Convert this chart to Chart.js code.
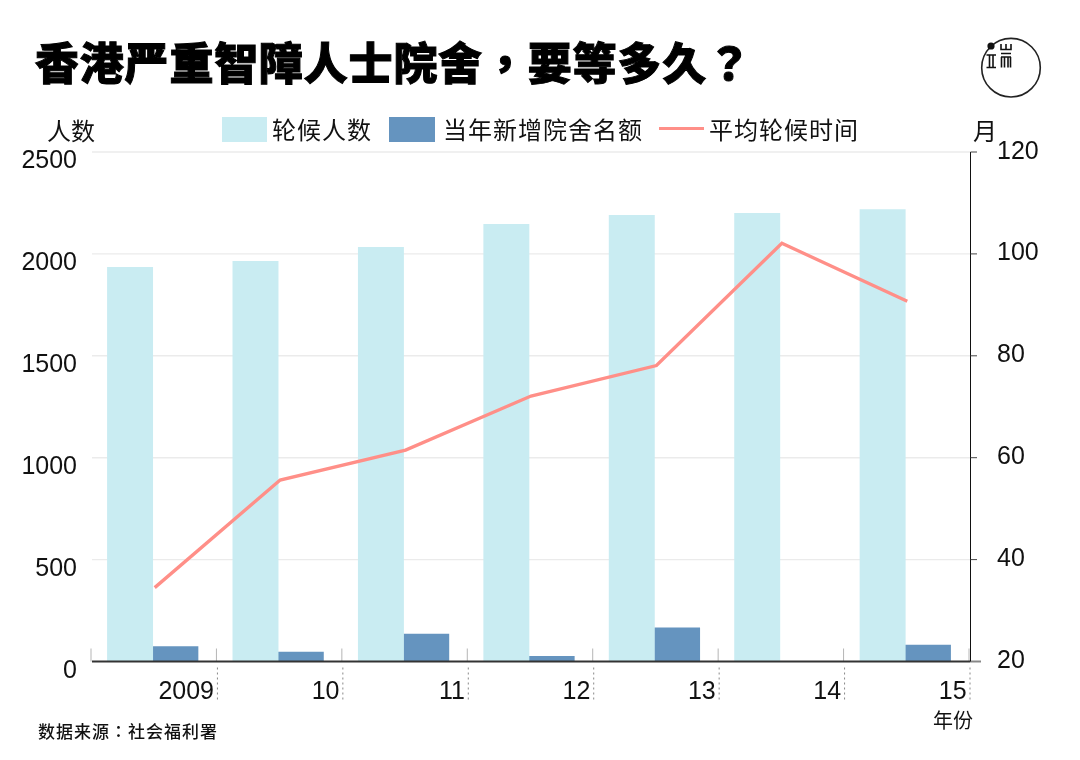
<!DOCTYPE html>
<html>
<head>
<meta charset="utf-8">
<style>
  html, body { margin: 0; background: #fff; }
  #page { position: relative; width: 1080px; height: 760px; overflow: hidden; font-family: "Liberation Sans", "Noto Sans CJK SC", sans-serif; color: #111; }
  #page canvas { position: absolute; left: 0; top: 0; }
  .txt { position: absolute; white-space: nowrap; font-family: "Noto Sans CJK SC", sans-serif; }
  #title { left: 35px; top: 26px; font-family: "Noto Sans CJK TC", sans-serif; font-size: 44px; line-height: 70px; font-weight: 900; color: #000; letter-spacing: 0.8px; -webkit-text-stroke: 1px #000; }
  .unit { font-size: 24px; line-height: 30px; top: 115px; }
  .sw { position: absolute; }
  .leg { font-size: 24px; line-height: 30px; top: 114px; letter-spacing: 1px; }
  #source { left: 38px; top: 719px; font-family: "Noto Sans CJK TC", sans-serif; font-size: 17px; line-height: 24px; font-weight: 500; letter-spacing: 1px; }
  #yearUnit { left: 933px; top: 707px; font-size: 20px; line-height: 26px; }
  #logo { position: absolute; left: 970px; top: 30px; }
</style>
</head>
<body>
<div id="page">
  <canvas id="waitChart" width="1080" height="760"></canvas>
  <div class="txt" id="title">香港严重智障人士院舍，要等多久？</div>
  <svg id="logo" width="80" height="75" viewBox="0 0 80 75">
    <circle cx="41" cy="37.7" r="29.3" fill="none" stroke="#222" stroke-width="1.6"/>
    <circle cx="21" cy="16" r="3.6" fill="#111"/>
    <path d="M31 14v5.5h10v-5.5M36 14v5.5M31 23.5h10M31 27h10M31.5 27v10.5M34.5 27v10.5M38 27v10.5M40.5 27v10.5M16.5 25h9.5M16.5 37.5h9.5M19.5 25v12.5M23 25v12.5" fill="none" stroke="#111" stroke-width="1.6"/>
  </svg>
  <div class="txt unit" style="left:47px">人数</div>
  <div class="txt unit" style="left:973px">月</div>
  <div class="sw" style="left:222px;top:117px;width:45px;height:25px;background:#c9ecf2"></div>
  <div class="txt leg" style="left:272px">轮候人数</div>
  <div class="sw" style="left:389px;top:117px;width:46px;height:25px;background:#6594bf"></div>
  <div class="txt leg" style="left:443px">当年新增院舍名额</div>
  <div class="sw" style="left:659px;top:127px;width:45px;height:3px;background:#ff8f88"></div>
  <div class="txt leg" style="left:709px">平均轮候时间</div>
  <div class="txt" id="source">数据来源：社会福利署</div>
  <div class="txt" id="yearUnit">年份</div>
</div>
<script src="https://cdn.jsdelivr.net/npm/chart.js@4/dist/chart.umd.min.js"></script>
<script>
    var yearLabels = ['2009', '10', '11', '12', '13', '14', '15'];
    var waitingPeople = [1934, 1964, 2032, 2145, 2189, 2199, 2218];
    var newPlaces = [73, 46, 135, 25, 165, 0, 81];
    var waitMonths = [34.5, 55.6, 61.5, 72.1, 78.1, 102.1, 90.7];

    var tickFont = { family: '"Liberation Sans"', size: 25 };

    function plainNumber(value) {
        return String(value);
    }

    // grid lines sit behind the bars and stop short of the y labels
    var gridPlugin = {
        id: 'leftGrid',
        beforeDatasetsDraw: function (chart) {
            var ctx = chart.ctx;
            var y = chart.scales.y;
            ctx.save();
            ctx.strokeStyle = '#ebebeb';
            ctx.lineWidth = 1.4;
            y.ticks.forEach(function (t) {
                if (t.value === 0) return;
                var py = y.getPixelForValue(t.value);
                ctx.beginPath();
                ctx.moveTo(92, py);
                ctx.lineTo(970, py);
                ctx.stroke();
            });
            ctx.restore();
        }
    };

    // year dividers, baseline and right axis, drawn from the scales
    var dividerPlugin = {
        id: 'dividers',
        afterDatasetsDraw: function (chart) {
            var ctx = chart.ctx;
            var x = chart.scales.x;
            var y = chart.scales.y;
            var yRight = chart.scales.yRight;
            var base = y.getPixelForValue(0);
            var step = x.getPixelForValue(1) - x.getPixelForValue(0);
            var firstEdge = x.getPixelForValue(0) - step / 2 + 1;
            ctx.save();
            ctx.strokeStyle = '#b5b5b5';
            ctx.lineWidth = 1;
            ctx.beginPath();
            ctx.moveTo(firstEdge, base - 13);
            ctx.lineTo(firstEdge, base);
            ctx.stroke();
            yearLabels.forEach(function (label, i) {
                var px = x.getPixelForValue(i) + step / 2 + 1;
                ctx.strokeStyle = '#b5b5b5';
                ctx.setLineDash([]);
                ctx.beginPath();
                ctx.moveTo(px, base - 13);
                ctx.lineTo(px, base);
                ctx.stroke();
                ctx.strokeStyle = '#888';
                ctx.setLineDash([2, 3]);
                ctx.beginPath();
                ctx.moveTo(px + 1, base + 6);
                ctx.lineTo(px + 1, base + 41);
                ctx.stroke();
            });
            ctx.setLineDash([]);
            // baseline
            ctx.strokeStyle = '#333';
            ctx.lineWidth = 2;
            ctx.beginPath();
            ctx.moveTo(92, base);
            ctx.lineTo(970, base);
            ctx.stroke();
            ctx.strokeStyle = '#888';
            ctx.beginPath();
            ctx.moveTo(970, base);
            ctx.lineTo(981, base);
            ctx.stroke();
            // right axis and its ticks
            ctx.strokeStyle = '#111';
            ctx.lineWidth = 1;
            ctx.beginPath();
            ctx.moveTo(970.5, y.top);
            ctx.lineTo(970.5, base);
            ctx.stroke();
            ctx.strokeStyle = '#444';
            yRight.ticks.forEach(function (t) {
                if (t.value === 20) return;
                var py = yRight.getPixelForValue(t.value);
                ctx.beginPath();
                ctx.moveTo(970.5, py);
                ctx.lineTo(977, py);
                ctx.stroke();
            });
            ctx.restore();
        }
    };

    new Chart(document.getElementById('waitChart').getContext('2d'), {
        type: 'bar',
        data: {
            labels: yearLabels,
            datasets: [
                {
                    type: 'line',
                    data: waitMonths.map(function (v, i) { return { x: i, y: v }; }),
                    xAxisID: 'xLine',
                    yAxisID: 'yRight',
                    borderColor: '#ff8f88',
                    borderWidth: 3.3,
                    pointRadius: 0,
                    tension: 0,
                    order: 0
                },
                { data: waitingPeople, backgroundColor: '#c9ecf2', yAxisID: 'y', barThickness: 45.3, order: 1 },
                { data: newPlaces, backgroundColor: '#6594bf', yAxisID: 'y', barThickness: 45.3, order: 1 }
            ]
        },
        options: {
            responsive: false,
            animation: false,
            devicePixelRatio: 1,
            layout: { padding: { left: 0, right: 0, top: 152, bottom: 0 } },
            plugins: { legend: { display: false }, tooltip: { enabled: false } },
            scales: {
                x: {
                    grid: { display: false },
                    border: { display: false },
                    afterFit: function (scale) { scale.height = 98.5; },
                    ticks: {
                        align: 'end',
                        labelOffset: 61.3,
                        padding: 8,
                        maxRotation: 0,
                        autoSkip: false,
                        color: '#111',
                        font: tickFont
                    }
                },
                xLine: {
                    type: 'linear',
                    display: false,
                    offset: false,
                    min: -0.516,
                    max: 6.484
                },
                y: {
                    min: 0,
                    max: 2500,
                    afterFit: function (scale) { scale.width = 90; },
                    grid: { display: false },
                    border: { display: false },
                    ticks: {
                        stepSize: 500,
                        padding: 5,
                        labelOffset: 9.5,
                        color: '#111',
                        font: tickFont,
                        callback: plainNumber
                    }
                },
                yRight: {
                    position: 'right',
                    min: 20,
                    max: 120,
                    afterFit: function (scale) { scale.width = 112; },
                    grid: { display: false },
                    border: { display: false },
                    ticks: {
                        stepSize: 20,
                        padding: 21,
                        labelOffset: -0.3,
                        color: '#111',
                        font: tickFont,
                        callback: plainNumber
                    }
                }
            }
        },
        plugins: [gridPlugin, dividerPlugin]
    });
</script>
</body>
</html>
